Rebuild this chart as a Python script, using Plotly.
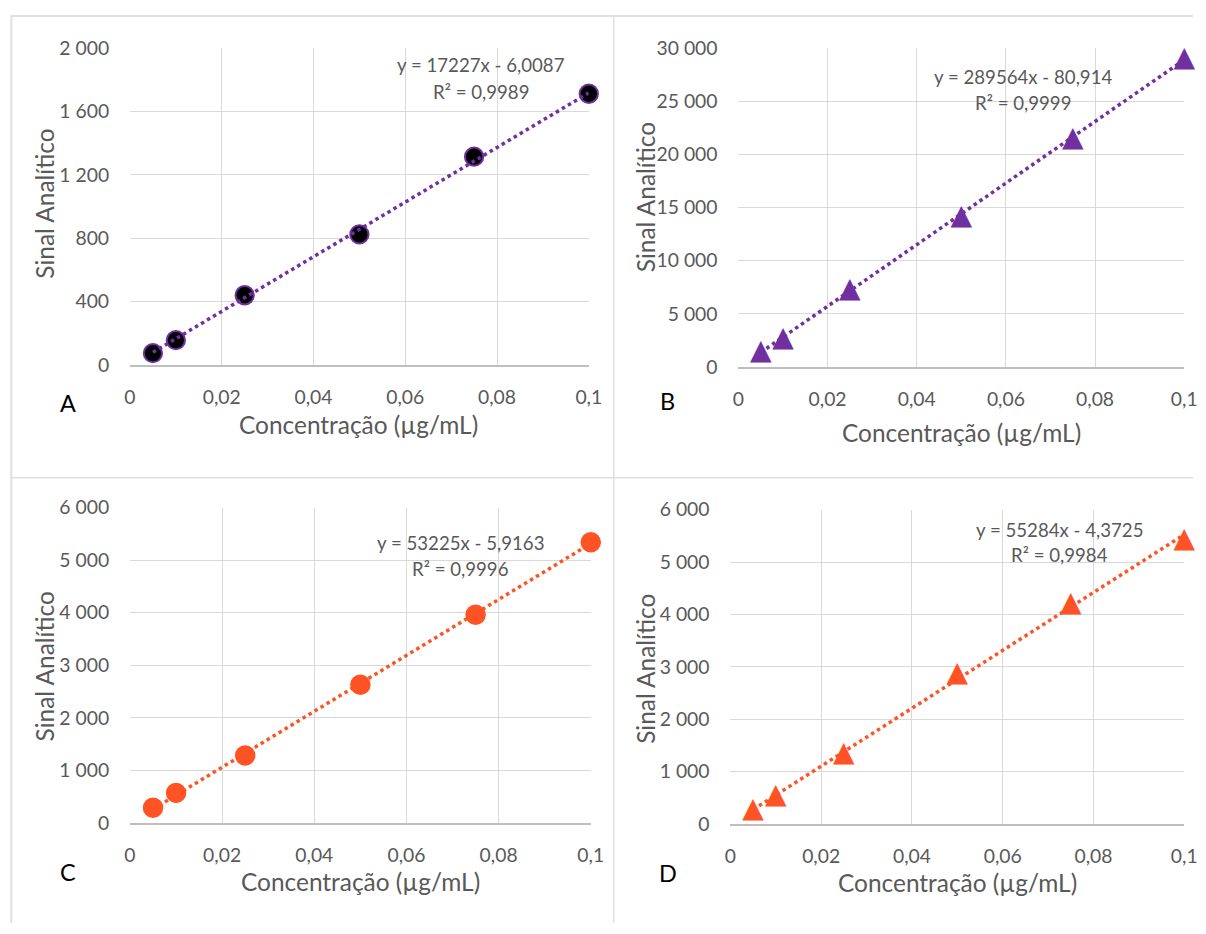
import plotly.graph_objects as go

# ---------------- data ----------------
conc = [0.005, 0.01, 0.025, 0.05, 0.075, 0.1]

sig_A = [75, 157, 440, 824, 1314, 1711]
sig_B = [1400, 2600, 7250, 14150, 21450, 28950]
sig_C = [285, 570, 1280, 2630, 3960, 5340]
sig_D = [272, 530, 1330, 2870, 4200, 5420]

slope = [17227, 289564, 53225, 55284]
intercept = [-6.0087, -80.914, -5.9163, -4.3725]
eq_text = ["y = 17227x - 6,0087", "y = 289564x - 80,914", "y = 53225x - 5,9163", "y = 55284x - 4,3725"]
r2_text = ["R² = 0,9989", "R² = 0,9999", "R² = 0,9996", "R² = 0,9984"]
panel_letters = ["A", "B", "C", "D"]

x_ticks = [0, 0.02, 0.04, 0.06, 0.08, 0.1]
x_ticktext = ["0", "0,02", "0,04", "0,06", "0,08", "0,1"]
y_ticks_A = [0, 400, 800, 1200, 1600, 2000]
y_ticktext_A = ["0", "400", "800", "1 200", "1 600", "2 000"]
y_ticks_B = [0, 5000, 10000, 15000, 20000, 25000, 30000]
y_ticktext_B = ["0", "5 000", "10 000", "15 000", "20 000", "25 000", "30 000"]
y_ticks_CD = [0, 1000, 2000, 3000, 4000, 5000, 6000]
y_ticktext_CD = ["0", "1 000", "2 000", "3 000", "4 000", "5 000", "6 000"]

x_title = "Concentração (µg/mL)"
y_title = "Sinal Analítico"

PURPLE = "#7030A0"
ORANGE = "#FF5326"
GRID = "#D9D9D9"
TXT = "#595959"
FONT = "Lato"

W, H = 1206, 934
# page-to-photo compensation (measured)
AX, BX = 0.9868, 3.7
AY, BY = 0.978, 11.0
FS = 1 / 0.982

def px(x):
    return ((x - BX) / AX) / W

def py(y):
    return 1 - ((y - BY) / AY) / H

# plot areas in reference pixels: (left, right, top, bottom)
areas = [(128, 588, 47, 365), (738, 1185, 47, 367), (128, 590, 508, 824), (730, 1185, 510, 825)]
yranges = [2000, 30000, 6000, 6000]
yticks = [(y_ticks_A, y_ticktext_A), (y_ticks_B, y_ticktext_B), (y_ticks_CD, y_ticktext_CD), (y_ticks_CD, y_ticktext_CD)]
signals = [sig_A, sig_B, sig_C, sig_D]
colors = [PURPLE, PURPLE, ORANGE, ORANGE]
eq_pos = [(480, 64, 91), (1023, 76, 102), (459, 543, 570), (1060, 530, 555)]
letter_pos = [(66, 403), (667, 401), (66, 873), (667, 874)]
xtitle_pos = [(357, 425), (962, 433), (359, 883), (958, 884)]
ytitle_pos = [(42, 203), (645, 197), (42, 667), (645, 670)]

fig = go.Figure()
annotations = []
for i in range(4):
    xa = "x" if i == 0 else f"x{i+1}"
    ya = "y" if i == 0 else f"y{i+1}"
    c = colors[i]
    if i == 0:
        fig.add_trace(go.Scatter(x=conc, y=signals[i], mode="markers",
                                 marker=dict(symbol="circle", size=18.3, color="black",
                                             line=dict(color=PURPLE, width=2)),
                                 xaxis=xa, yaxis=ya, cliponaxis=False, showlegend=False))
    elif i == 2:
        fig.add_trace(go.Scatter(x=conc, y=signals[i], mode="markers",
                                 marker=dict(symbol="circle", size=20.5, color=c, line=dict(width=0)),
                                 xaxis=xa, yaxis=ya, cliponaxis=False, showlegend=False))
    else:
        fig.add_trace(go.Scatter(x=conc, y=signals[i], mode="text", text=["▲"] * len(conc),
                                 textposition="middle center",
                                 textfont=dict(family="DejaVu Sans", size=28, color=c),
                                 xaxis=xa, yaxis=ya, cliponaxis=False, showlegend=False))
    x0, x1 = conc[0], conc[-1]
    fig.add_trace(go.Scatter(x=[x0, x1], y=[slope[i] * x0 + intercept[i], slope[i] * x1 + intercept[i]],
                             mode="lines", line=dict(color=c, width=3.5, dash="dot"),
                             xaxis=xa, yaxis=ya, cliponaxis=False, showlegend=False))
    l, r, t, b = areas[i]
    axx = dict(domain=[px(l), px(r)], range=[0, 0.1], tickvals=x_ticks, ticktext=x_ticktext,
               showgrid=True, gridcolor=GRID, gridwidth=1.3, zeroline=False,
               showline=True, linecolor="#BFBFBF", linewidth=1.5,
               ticks="outside", ticklen=14, tickcolor="rgba(0,0,0,0)",
               tickfont=dict(family=FONT, size=19 * FS, color=TXT),
               anchor=ya, fixedrange=True)
    yv, yt = yticks[i]
    axy = dict(domain=[py(b), py(t)], range=[0, yranges[i]], tickvals=yv, ticktext=yt,
               showgrid=True, gridcolor=GRID, gridwidth=1.3, zeroline=False,
               showline=False,
               ticks="outside", ticklen=16, tickcolor="rgba(0,0,0,0)",
               tickfont=dict(family=FONT, size=19 * FS, color=TXT),
               anchor=xa, fixedrange=True)
    key = "" if i == 0 else str(i + 1)
    fig.update_layout(**{f"xaxis{key}": axx, f"yaxis{key}": axy})

    tx, ty = xtitle_pos[i]
    annotations.append(dict(x=px(tx), y=py(ty), xref="paper", yref="paper",
                            text=x_title, showarrow=False, xanchor="center", yanchor="middle",
                            font=dict(family=FONT, size=24 * FS, color=TXT)))
    tx, ty = ytitle_pos[i]
    annotations.append(dict(x=px(tx), y=py(ty), xref="paper", yref="paper",
                            text=y_title, showarrow=False, textangle=-90, xanchor="center", yanchor="middle",
                            font=dict(family=FONT, size=24 * FS, color=TXT)))
    ex, ey1, ey2 = eq_pos[i]
    annotations.append(dict(x=px(ex), y=py(ey1), xref="paper", yref="paper", text=eq_text[i],
                            showarrow=False, xanchor="center", yanchor="middle",
                            font=dict(family=FONT, size=18.3 * FS, color=TXT)))
    annotations.append(dict(x=px(ex), y=py(ey2), xref="paper", yref="paper", text=r2_text[i],
                            showarrow=False, xanchor="center", yanchor="middle",
                            font=dict(family=FONT, size=18.3 * FS, color=TXT)))
    lx, ly = letter_pos[i]
    annotations.append(dict(x=px(lx), y=py(ly), xref="paper", yref="paper", text=panel_letters[i],
                            showarrow=False, xanchor="center", yanchor="middle",
                            font=dict(family=FONT, size=23 * FS, color="black")))

FRAME = "#E0E0E0"
shapes = [
    dict(type="line", xref="paper", yref="paper", x0=px(9), x1=px(9), y0=py(15), y1=0, line=dict(color=FRAME, width=2)),
    dict(type="line", xref="paper", yref="paper", x0=px(8), x1=1, y0=py(15), y1=py(15), line=dict(color=FRAME, width=2)),
    dict(type="line", xref="paper", yref="paper", x0=px(613), x1=px(613), y0=py(15), y1=0, line=dict(color=FRAME, width=1.5)),
    dict(type="line", xref="paper", yref="paper", x0=px(8), x1=1, y0=py(478), y1=py(478), line=dict(color=FRAME, width=1.5)),
]

fig.update_layout(width=W, height=H, margin=dict(l=0, r=0, t=0, b=0),
                  paper_bgcolor="white", plot_bgcolor="white",
                  annotations=annotations, shapes=shapes,
                  font=dict(family=FONT, color=TXT))

fig.write_html("out.html")
